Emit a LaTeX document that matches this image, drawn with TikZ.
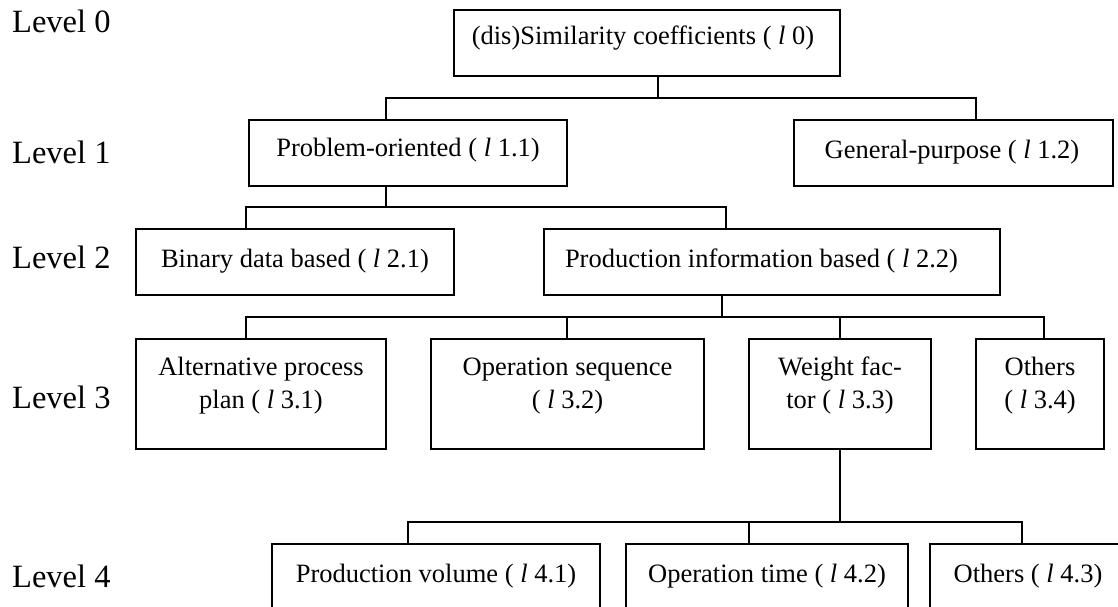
\documentclass[tikz,border=0pt]{standalone}
\usepackage{fontspec}
\setmainfont{Liberation Serif}
\begin{document}
\begin{tikzpicture}[x=1pt,y=-1pt,
  box/.style={draw, line width=1.8pt, inner sep=0pt, outer sep=0pt},
  conn/.style={line width=1.8pt},
  txt/.style={inner sep=0pt, anchor=base, font=\fontsize{26.5}{33}\selectfont},
  lvl/.style={inner sep=0pt, anchor=base west, font=\fontsize{32.5}{38}\selectfont}]
\useasboundingbox (0,0) rectangle (1118,607);
\fill[white] (0,0) rectangle (1118,607);
\clip (0,0) rectangle (1118,607);

% level labels
\node[lvl] (L0) at (12,33) {Level 0};
\node[lvl] (L1) at (12,163) {Level 1};
\node[lvl] (L2) at (12,268) {Level 2};
\node[lvl] (L3) at (12,408) {Level 3};
\node[lvl] (L4) at (12,587) {Level 4};

% boxes
\node[box, minimum width=386, minimum height=66] (b0) at (647,43) {};
\node[box, minimum width=318, minimum height=66] (b11) at (408,153) {};
\node[box, minimum width=319, minimum height=66] (b12) at (953.5,153) {};
\node[box, minimum width=318, minimum height=66] (b21) at (295,262) {};
\node[box, minimum width=456, minimum height=66] (b22) at (772,262) {};
\node[box, minimum width=250, minimum height=110] (b31) at (261,394) {};
\node[box, minimum width=273, minimum height=110] (b32) at (567.5,394) {};
\node[box, minimum width=182, minimum height=110] (b33) at (840,394) {};
\node[box, minimum width=128, minimum height=110] (b34) at (1040,394) {};
\node[box, minimum width=328, minimum height=96] (b41) at (436,592) {};
\node[box, minimum width=282, minimum height=96] (b42) at (767,592) {};
\node[box, minimum width=196, minimum height=96] (b43) at (1028,592) {};

% texts
\node[txt] (t0) at (643,45) {(dis)Similarity coefficients ( \textit{l} 0)};
\node[txt] (t11) at (408,157) {Problem-oriented ( \textit{l} 1.1)};
\node[txt] (t12) at (952,158) {General-purpose ( \textit{l} 1.2)};
\node[txt] (t21) at (295,267) {Binary data based ( \textit{l} 2.1)};
\node[txt] (t22) at (761.5,267) {Production information based ( \textit{l} 2.2)};
\node[txt] (t31a) at (261,375) {Alternative process};
\node[txt] (t31b) at (261,408) {plan ( \textit{l} 3.1)};
\node[txt] (t32a) at (567.5,375) {Operation sequence};
\node[txt] (t32b) at (567.5,408) {( \textit{l} 3.2)};
\node[txt] (t33a) at (840,375) {Weight fac-};
\node[txt] (t33b) at (840,408) {tor ( \textit{l} 3.3)};
\node[txt] (t34a) at (1040,375) {Others};
\node[txt] (t34b) at (1040,408) {( \textit{l} 3.4)};
\node[txt] (t41) at (436,582) {Production volume ( \textit{l} 4.1)};
\node[txt] (t42) at (767,582) {Operation time ( \textit{l} 4.2)};
\node[txt] (t43) at (1028,582) {Others ( \textit{l} 4.3)};

% junction coordinates
\coordinate (j0) at (658,98);
\coordinate (d11) at (386,98);
\coordinate (d12) at (976,98);
\coordinate (j1) at (386,207);
\coordinate (d21) at (246,207);
\coordinate (d22) at (726,207);
\coordinate (j2) at (722,317);
\coordinate (d31) at (246,317);
\coordinate (d32) at (567,317);
\coordinate (d33) at (840,317);
\coordinate (d34) at (1044,317);
\coordinate (j3) at (840,522);
\coordinate (d41) at (408,522);
\coordinate (d42) at (749,522);
\coordinate (d43) at (1022,522);

% connectors
\draw[conn] (j0 |- b0.south) -- (j0);
\draw[conn] (d11 |- b11.north) -- (d11) -- (d12) -- (d12 |- b12.north);
\draw[conn] (j1 |- b11.south) -- (j1);
\draw[conn] (d21 |- b21.north) -- (d21) -- (d22) -- (d22 |- b22.north);
\draw[conn] (j2 |- b22.south) -- (j2);
\draw[conn] (d31 |- b31.north) -- (d31) -- (d34) -- (d34 |- b34.north);
\draw[conn] (d32) -- (d32 |- b32.north);
\draw[conn] (d33) -- (d33 |- b33.north);
\draw[conn] (j3 |- b33.south) -- (j3);
\draw[conn] (d41 |- b41.north) -- (d41) -- (d43) -- (d43 |- b43.north);
\draw[conn] (d42) -- (d42 |- b42.north);
\end{tikzpicture}
\end{document}
